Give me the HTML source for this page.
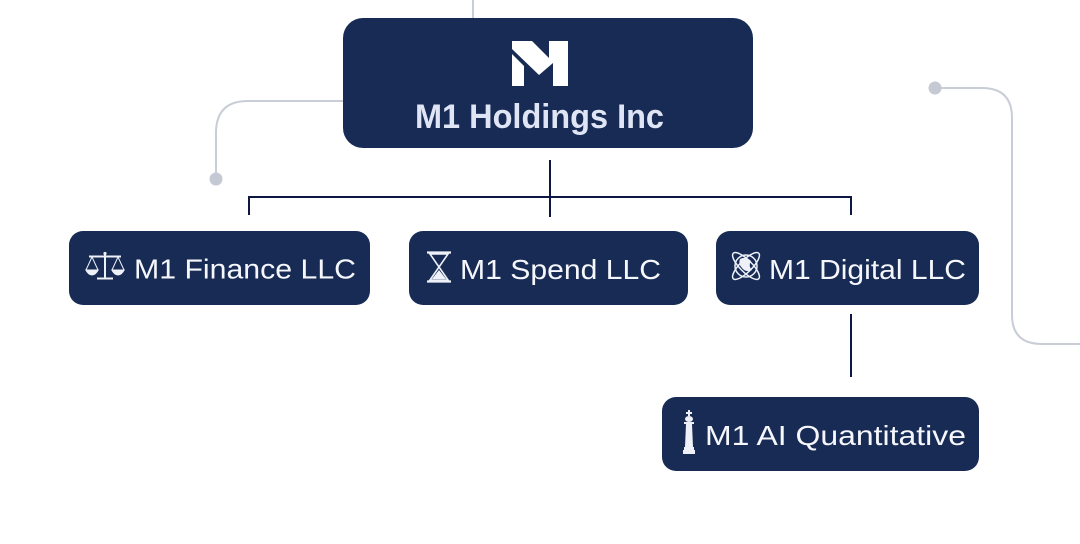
<!DOCTYPE html>
<html>
<head>
<meta charset="utf-8">
<style>
  html,body{margin:0;padding:0;background:#ffffff;}
  body{width:1080px;height:544px;overflow:hidden;}
  svg{display:block;}
  text{font-family:"Liberation Sans", Arial, sans-serif;}
</style>
</head>
<body>
<svg width="1080" height="544" viewBox="0 0 1080 544" xmlns="http://www.w3.org/2000/svg">
  <rect width="1080" height="544" fill="#ffffff"/>

  <!-- decorative grey lines -->
  <g fill="none" stroke="#c9cdd7" stroke-width="2">
    <line x1="473" y1="0" x2="473" y2="19"/>
    <path d="M345 101 L248 101 Q216 101 216 133 L216 178"/>
    <path d="M935 88 L982 88 Q1012 88 1012 118 L1012 315 Q1012 344 1042 344 L1080 344"/>
  </g>
  <circle cx="216" cy="179" r="6.5" fill="#c5c9d4"/>
  <circle cx="935" cy="88" r="6.5" fill="#c5c9d4"/>

  <!-- connectors -->
  <g fill="none" stroke="#0c1743" stroke-width="2">
    <line x1="550" y1="160" x2="550" y2="217"/>
    <line x1="248" y1="197" x2="852" y2="197"/>
    <line x1="249" y1="196" x2="249" y2="215"/>
    <line x1="851" y1="196" x2="851" y2="215"/>
    <line x1="851" y1="314" x2="851" y2="377"/>
  </g>

  <!-- top box -->
  <rect x="343" y="18" width="410" height="130" rx="20" ry="20" fill="#182b55"/>
  <!-- M logo -->
  <g fill="#ffffff">
    <polygon points="512,41 532,41 549,58 549,41 568,41 568,86 553,86 553,63 539,75 512,49"/>
    <polygon points="512,54 524,66 524,86 512,86"/>
  </g>
  <text x="415" y="128" font-size="34" font-weight="bold" fill="#dfe5f5" textLength="249" lengthAdjust="spacingAndGlyphs">M1 Holdings Inc</text>

  <!-- child boxes -->
  <rect x="69" y="231" width="301" height="74" rx="14" ry="14" fill="#182b55"/>
  <rect x="409" y="231" width="279" height="74" rx="14" ry="14" fill="#182b55"/>
  <rect x="716" y="231" width="263" height="74" rx="14" ry="14" fill="#182b55"/>
  <rect x="662" y="397" width="317" height="74" rx="14" ry="14" fill="#182b55"/>

  <!-- labels -->
  <g fill="#f5f7fc" font-size="28">
    <text x="134" y="278.5" textLength="222" lengthAdjust="spacingAndGlyphs">M1 Finance LLC</text>
    <text x="460" y="279" textLength="201" lengthAdjust="spacingAndGlyphs">M1 Spend LLC</text>
    <text x="769" y="279" textLength="197" lengthAdjust="spacingAndGlyphs">M1 Digital LLC</text>
    <text x="705" y="445" textLength="261" lengthAdjust="spacingAndGlyphs">M1 AI Quantitative</text>
  </g>

  <!-- scales icon -->
  <g stroke="#eef1f8" fill="none">
    <line x1="89" y1="256.5" x2="121" y2="256.5" stroke-width="2"/>
    <line x1="105" y1="253" x2="105" y2="278" stroke-width="2"/>
    <line x1="97" y1="278.5" x2="113" y2="278.5" stroke-width="2"/>
    <line x1="92" y1="257" x2="86" y2="270" stroke-width="1"/>
    <line x1="92" y1="257" x2="98" y2="270" stroke-width="1"/>
    <line x1="118" y1="257" x2="112" y2="270" stroke-width="1"/>
    <line x1="118" y1="257" x2="124" y2="270" stroke-width="1"/>
  </g>
  <g fill="#eef1f8">
    <path d="M85 269.5 L99 269.5 Q96 275.5 92 275.5 Q88 275.5 85 269.5 Z"/>
    <path d="M111 269.5 L125 269.5 Q122 275.5 118 275.5 Q114 275.5 111 269.5 Z"/>
    <circle cx="105" cy="253.5" r="1.6"/>
  </g>

  <!-- hourglass icon -->
  <g stroke="#eef1f8" fill="none">
    <line x1="427" y1="252.5" x2="451" y2="252.5" stroke-width="2.2"/>
    <line x1="427" y1="281.5" x2="451" y2="281.5" stroke-width="2.2"/>
    <path d="M430 254 L448 254 L439 267 L448 280 L430 280 L439 267 Z" stroke-width="1.6"/>
  </g>
  <path d="M439 270 L446 279 L432 279 Z" fill="#eef1f8"/>

  <!-- globe icon -->
  <g stroke="#eef1f8" fill="none" stroke-width="1.5">
    <circle cx="746" cy="266" r="11"/>
    <ellipse cx="746" cy="266" rx="18" ry="6" transform="rotate(45 746 266)"/>
    <ellipse cx="746" cy="266" rx="18" ry="6" transform="rotate(-45 746 266)"/>
  </g>
  <path d="M740 259 Q746 256 751 261 Q748 266 752 270 Q746 273 742 268 Q738 264 740 259 Z" fill="#eef1f8"/>

  <!-- chess king icon -->
  <g fill="#eef1f8">
    <rect x="688" y="410" width="2" height="6"/>
    <rect x="686" y="412" width="6" height="2"/>
    <ellipse cx="689" cy="419" rx="4" ry="3"/>
    <rect x="684" y="422" width="10" height="2"/>
    <path d="M686 424 L692 424 L693 447 L685 447 Z"/>
    <rect x="684" y="447" width="10" height="3"/>
    <rect x="683" y="450" width="12" height="4"/>
  </g>
</svg>
</body>
</html>
